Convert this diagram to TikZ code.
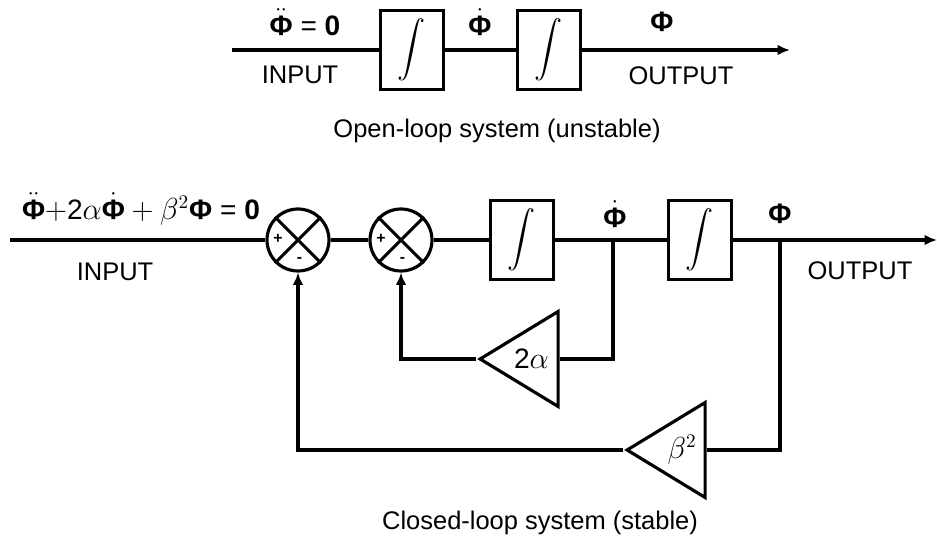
\documentclass[tikz,border=0pt]{standalone}
\usepackage{fontspec}
\usepackage{graphicx}
\setmainfont{Liberation Sans}
\usetikzlibrary{arrows.meta,shapes.geometric}
\newcommand{\Phib}{\hbox{\bfseries Φ}}
\newcommand{\bigint}{\scalebox{1.6}{$\displaystyle\int$}}

\begin{document}
\begin{tikzpicture}[x=0.02cm,y=-0.02cm]
  % Estilos
  \tikzset{
    int_box/.style={draw,line width=1.8pt,minimum width=1.26cm,minimum height=1.58cm,inner sep=0},
    sum_node/.style={draw,circle,line width=1.8pt,minimum size=1.24cm,inner sep=0},
    gain_node/.style={draw,isosceles triangle,shape border rotate=180,isosceles triangle stretches,line width=1.8pt,minimum width=1.9cm,minimum height=1.56cm,inner sep=0,font=\fontsize{16}{19}\selectfont},
    sig/.style={line width=1.8pt},
    sig_arrow/.style={line width=1.8pt,-{Latex[length=7pt,width=6pt]}},
    lbl/.style={font=\fontsize{14.5}{18}\selectfont},
    sym/.style={font=\fontsize{16}{19}\selectfont},
    sgn/.style={font=\bfseries\small,inner sep=0}
  }
  \useasboundingbox (0,0) rectangle (937,540);

  % Sistema en lazo abierto
  \coordinate (in0) at (232,50);
  \node[int_box] (i1) at (412,50) {\bigint};
  \node[int_box] (i2) at (549,50) {\bigint};
  \coordinate (out0) at (790,50);

  \foreach \from/\to in {in0/i1,i1/i2}
    \draw[sig] (\from) -- (\to);
  \draw[sig_arrow] (i2) -- (out0);

  \node[sym] (eq0) at (305,22) {$\ddot{\Phib}$ = \textbf{0}};
  \node[lbl] (inp0) at (300,75) {INPUT};
  \node[sym] (dphi0) at (480,22) {$\dot{\Phib}$};
  \node[sym] (phi0) at (662,22) {\Phib};
  \node[lbl] (outp0) at (681,76) {OUTPUT};
  \node[lbl] (cap0) at (497,131) {Open-loop system (unstable)};

  % Sistema en lazo cerrado
  \coordinate (in1) at (10,240);
  \node[sum_node] (s1) at (298,240) {};
  \node[sum_node] (s2) at (401,240) {};
  \node[int_box] (i3) at (522,240) {\bigint};
  \node[int_box] (i4) at (700,240) {\bigint};
  \coordinate (b1) at (613,240);
  \coordinate (b2) at (780,240);
  \coordinate (out1) at (937,240);

  \foreach \s in {s1,s2} {
    \draw[sig] (\s.north west) -- (\s.south east);
    \draw[sig] (\s.north east) -- (\s.south west);
    \node[sgn] at ([xshift=-0.4cm,yshift=0.03cm]\s.center) {+};
    \node[sgn] at ([xshift=0.03cm,yshift=-0.4cm]\s.center) {-};
  }

  \foreach \from/\to in {in1/s1,s1/s2,s2/i3,i3/i4}
    \draw[sig] (\from) -- (\to);
  \draw[sig_arrow] (i4) -- (out1);

  \node[gain_node,anchor=apex] (g1) at (476,359) {2$\alpha$};
  \node[gain_node,anchor=apex] (g2) at (623,450) {$\beta^2$};

  \draw[sig] (b1) |- (g1.lower side);
  \draw[sig_arrow] (g1.apex) -| (s2.south);
  \draw[sig] (b2) |- (g2.lower side);
  \draw[sig_arrow] (g2.apex) -| (s1.south);

  \node[sym] (eq1) at (141,209) {$\ddot{\Phib}+$2$\alpha\dot{\Phib}+\beta^2\Phib$ = \textbf{0}};
  \node[lbl] (inp1) at (115,272) {INPUT};
  \node[sym] (dphi1) at (615,214) {$\dot{\Phib}$};
  \node[sym] (phi1) at (780,214) {\Phib};
  \node[lbl] (outp1) at (860,271) {OUTPUT};
  \node[lbl] (cap1) at (540,523) {Closed-loop system (stable)};
\end{tikzpicture}
\end{document}
